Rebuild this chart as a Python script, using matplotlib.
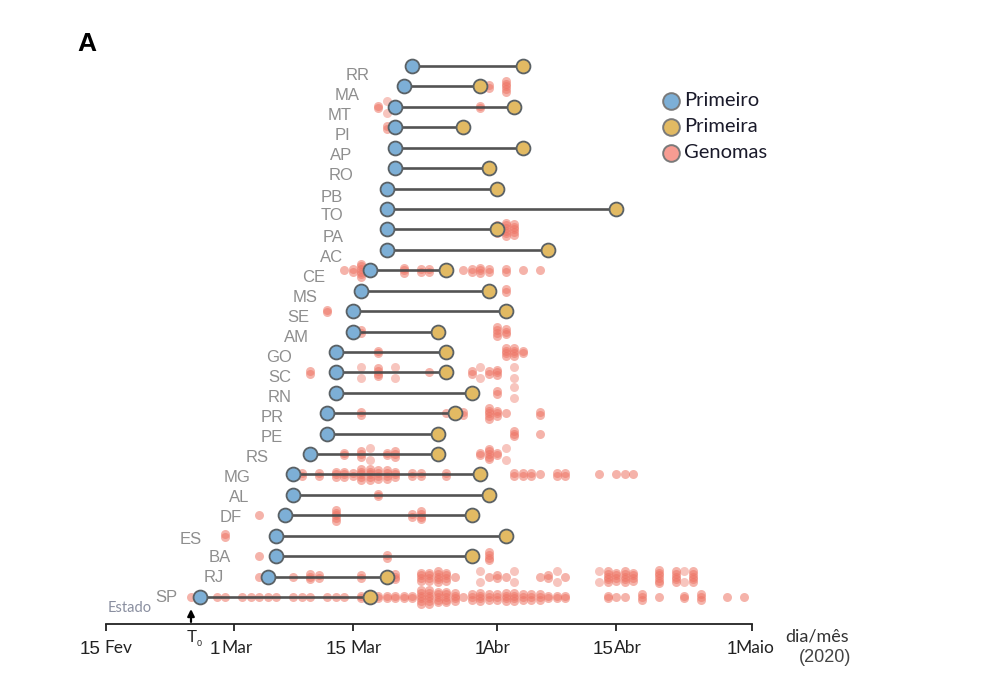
import matplotlib
matplotlib.use("Agg")
import matplotlib.pyplot as plt

W = 986
H = 681

# dias contados a partir de 15 Fev 2020
states = ["SP", "RJ", "BA", "ES", "DF", "AL", "MG", "RS", "PE", "PR", "RN", "SC", "GO", "AM",
          "SE", "MS", "CE", "AC", "PA", "TO", "PB", "RO", "AP", "PI", "MT", "MA", "RR"]
primeiro = [11, 19, 20, 20, 21, 22, 22, 24, 26, 26, 27, 27, 27, 29,
            29, 30, 31, 33, 33, 33, 33, 34, 34, 34, 34, 35, 36]
primeira = [31, 33, 43, 47, 43, 45, 44, 39, 39, 41, 43, 40, 40, 39,
            47, 45, 40, 52, 46, 60, 46, 45, 49, 42, 48, 44, 49]

# genomas: (dia, quantidade)
genomes = {
    "SP": [(10, 1), (13, 1), (14, 1), (16, 1), (17, 1), (18, 1), (19, 1), (20, 1), (22, 1), (23, 1),
           (24, 1), (26, 1), (27, 1), (28, 1), (30, 2), (32, 2), (33, 2), (34, 2), (35, 2), (36, 2),
           (37, 6), (38, 6), (39, 5), (40, 5), (41, 4), (42, 1), (43, 3), (44, 4), (45, 3), (46, 3),
           (47, 4), (48, 4), (49, 3), (50, 3), (51, 3), (52, 2), (53, 2), (54, 2), (59, 2), (60, 1),
           (61, 1), (63, 3), (65, 1), (68, 2), (70, 3), (73, 1), (75, 1)],
    "RJ": [(18, 1), (22, 1), (24, 3), (25, 2), (30, 2), (33, 1), (34, 3), (37, 4), (38, 4), (39, 5),
           (40, 4), (41, 1), (45, 1), (46, 2), (47, 1), (51, 1), (52, 2), (54, 1), (59, 5), (60, 4),
           (61, 5), (62, 4), (65, 6), (67, 5), (69, 5)],
    "BA": [(18, 1), (33, 2), (45, 4)],
    "ES": [(14, 2)],
    "DF": [(18, 1), (27, 5), (36, 2), (37, 4)],
    "AL": [(32, 2)],
    "MG": [(23, 2), (25, 2), (27, 3), (28, 3), (29, 2), (30, 5), (31, 5), (32, 4), (33, 4), (34, 3),
           (36, 2), (37, 2), (40, 2), (48, 2), (49, 2), (50, 2), (51, 1), (53, 2), (54, 2), (58, 1),
           (60, 1), (61, 1), (62, 1)],
    "RS": [(28, 2), (30, 3), (33, 2), (34, 3), (44, 2), (45, 5), (46, 2)],
    "PE": [(48, 3), (51, 1)],
    "PR": [(30, 2), (40, 1), (42, 2), (45, 5), (46, 3), (47, 1), (51, 2)],
    "RN": [(46, 2)],
    "SC": [(24, 2), (32, 4), (38, 1), (43, 2), (45, 2), (46, 3)],
    "GO": [(32, 2), (47, 4), (48, 4), (49, 2)],
    "AM": [(30, 2), (46, 4), (47, 3)],
    "SE": [(26, 2)],
    "MS": [(47, 2)],
    "CE": [(28, 1), (29, 2), (30, 6), (35, 3), (37, 2), (38, 2), (42, 1), (43, 2), (44, 3), (45, 2),
           (47, 2), (49, 1), (51, 1)],
    "PA": [(46, 4), (47, 6), (48, 5)],
    "PI": [(33, 2)],
    "MT": [(32, 2), (44, 2), (48, 2)],
    "MA": [(45, 2), (47, 5)],
}
# colunas com dois genomas separados (buraco no meio)
split_days = {
    "RJ": [44, 48, 53, 58, 68],
    "RS": [31, 47],
    "RN": [48],
    "SC": [30, 34, 44, 48],
    "MT": [33],
}

tick_numbers = [("15", "Fev"), ("1", "Mar"), ("15", "Mar"), ("1", "Abr"), ("15", "Abr"), ("1", "Maio")]
tick_days = [0, 15, 29, 46, 60, 76]

# layout em pixels
label_x = [166, 214, 220, 191, 231, 239, 237, 257, 272, 272, 280, 280, 279, 296,
           298, 305, 314, 332, 333, 332, 332, 341, 341, 342, 340, 347, 358]
label_y = [598, 578, 558, 540, 518, 498, 478, 457, 437, 417, 397, 377, 357, 337,
           317, 297, 277, 257, 237, 216, 197, 176, 156, 136, 116, 96, 76]
number_x = [90, 215, 336, 480, 603, 732]
month_x = [118, 237, 366, 497, 628, 755]

BLUE = "#7DAFD6"
GOLD = "#E2BA63"
RED = "#EE7565"
EDGE = "#5A6165"
SANS = "Liberation Sans"
LEGEND = "Lato"


def fx(px):
    return px / W


def fy(py):
    return 1 - py / H


fig = plt.figure(figsize=(W / 100, H / 100), dpi=100)
ax_left, ax_right, ax_top, ax_bottom = 106, 752, 50, 624
ax = fig.add_axes([fx(ax_left), fy(ax_bottom), (ax_right - ax_left) / W, (ax_bottom - ax_top) / H])
row_px = 20.42
ax.set_xlim(0, 76)
ax.set_ylim(-(ax_bottom - 597) / row_px, (597 - ax_top) / row_px)
ax.patch.set_alpha(0)

step = 2.7 / row_px
for i, st in enumerate(states):
    for day, n in genomes.get(st, []):
        ys = [i + (k - (n - 1) / 2) * step for k in range(n)]
        ax.scatter([day] * n, ys, s=42, color=RED, alpha=0.55, linewidths=0, zorder=1, clip_on=False)
    for day in split_days.get(st, []):
        ax.scatter([day, day], [i - 2.1 * step, i + 2.1 * step], s=42, color=RED, alpha=0.42,
                   linewidths=0, zorder=1, clip_on=False)
    ax.plot([primeiro[i], primeira[i]], [i, i], color="#4A4A4A", lw=1.9, zorder=2, alpha=0.95)

rows = list(range(len(states)))
ax.scatter(primeira, rows, s=100, color=GOLD, edgecolors=EDGE, linewidths=1.3, zorder=3)
ax.scatter(primeiro, rows, s=100, color=BLUE, edgecolors=EDGE, linewidths=1.3, zorder=4)

for side in ["top", "left", "right"]:
    ax.spines[side].set_visible(False)
ax.spines["bottom"].set_linewidth(1.3)
ax.spines["bottom"].set_color("#222222")
ax.set_yticks([])
ax.set_xticks(tick_days)
ax.set_xticklabels([])
ax.tick_params(axis="x", length=5, width=1.3, color="#222222")

for i, st in enumerate(states):
    fig.text(fx(label_x[i]), fy(label_y[i]), st, color="#8E8E8E", fontsize=12, family=SANS,
             ha="center", va="center")

for i in range(len(tick_days)):
    fig.text(fx(number_x[i]), fy(650), tick_numbers[i][0], color="#222222", fontsize=13.5, family=SANS,
             ha="center", va="center")
    fig.text(fx(month_x[i]), fy(648), tick_numbers[i][1], color="#222222", fontsize=12.5, family=LEGEND,
             ha="center", va="center")

fig.text(fx(817), fy(636), "dia/mês", color="#333333", fontsize=13, family=LEGEND, ha="center", va="center")
fig.text(fx(825), fy(658), "(2020)", color="#444444", fontsize=13, family=SANS, ha="center", va="center")
fig.text(fx(130), fy(608), "Estado", color="#8A8FA0", fontsize=10.5, family=LEGEND, ha="center", va="center")
fig.text(fx(87), fy(44), "A", color="black", fontsize=19, weight="bold", family=SANS, ha="center", va="center")

# seta do T0
ax.annotate("", xy=(10, -0.59), xytext=(10, -1.22), annotation_clip=False,
            arrowprops=dict(arrowstyle="-|>", color="black", lw=1.6, mutation_scale=10, shrinkA=0, shrinkB=0))
fig.text(fx(192), fy(637), "T", color="#222222", fontsize=12, family=SANS, ha="center", va="center")
fig.text(fx(199), fy(644), "0", color="#222222", fontsize=6.5, family=SANS, ha="center", va="center")

# legenda
legend_names = ["Primeiro", "Primeira", "Genomas"]
legend_colors = [BLUE, GOLD, "#F79C92"]
legend_y = [101, 127, 153]
for name, col, py in zip(legend_names, legend_colors, legend_y):
    fig.add_artist(plt.Line2D([fx(671)], [fy(py)], marker="o", ms=12, mfc=col, mec="#7A7A7A", mew=1.4,
                              transform=fig.transFigure, linestyle="none"))
    fig.text(fx(684), fy(py), name, color="#1A1A2A", fontsize=14.5, family=LEGEND, ha="left", va="center")

fig.savefig("out.png", dpi=100)
